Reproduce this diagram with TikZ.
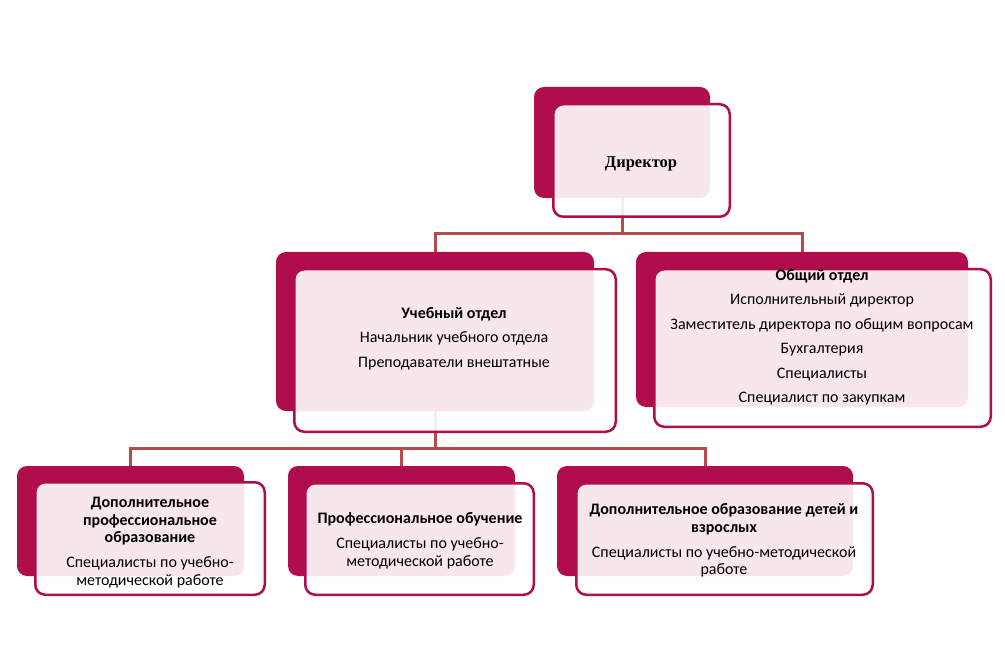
\documentclass[tikz,border=0pt]{standalone}
\usepackage{fontspec}
\setmainfont{Carlito}
\newfontfamily\dirfont{Liberation Serif}
\definecolor{crim}{RGB}{175,13,75}
\definecolor{connc}{RGB}{181,74,72}
\begin{document}
\begin{tikzpicture}[x=1pt,y=-1pt,
  backbox/.style={rectangle, rounded corners=10pt, draw=none, inner sep=0pt, outer sep=0pt},
  backfill/.style={crim, rounded corners=10pt},
  frontbox/.style={rectangle, rounded corners=10pt, draw=crim, line width=2.5pt, fill=white, fill opacity=0.9, inner sep=0pt, outer sep=0pt},
  conn/.style={draw=connc, line width=3pt},
  txt/.style={align=center, font=\fontsize{16}{17.8}\selectfont, inner sep=0pt},
  ltxt/.style={align=center, font=\fontsize{16}{24.5}\selectfont, inner sep=0pt}
]
\useasboundingbox[fill=white] (0,0) rectangle (1005,647);

% back boxes (placed first so connectors can attach to them)
\path (622,142.5) node[backbox, minimum width=176pt, minimum height=111pt] (dirB) {};
\path (435,331.5) node[backbox, minimum width=318pt, minimum height=159pt] (uchB) {};
\path (802,329.5) node[backbox, minimum width=332pt, minimum height=155pt] (obB) {};
\path (130.5,521) node[backbox, minimum width=227pt, minimum height=110pt] (b1B) {};
\path (401.5,521) node[backbox, minimum width=227pt, minimum height=110pt] (b2B) {};
\path (705,521) node[backbox, minimum width=296pt, minimum height=110pt] (b3B) {};

% connectors
\coordinate (j1) at (622,234);
\coordinate (j2) at (435,448);
\draw[conn] (dirB.south) -- (j1);
\draw[conn] (j1) -| (uchB.north);
\draw[conn] (j1) -| (obB.north);
\draw[conn] (uchB.south) -- (j2);
\draw[conn] (j2) -| (b1B.north);
\draw[conn] (j2) -| (b2B.north);
\draw[conn] (j2) -| (b3B.north);

% back box fills
\fill[backfill] (dirB.south west) rectangle (dirB.north east);
\fill[backfill] (uchB.south west) rectangle (uchB.north east);
\fill[backfill] (obB.south west) rectangle (obB.north east);
\fill[backfill] (b1B.south west) rectangle (b1B.north east);
\fill[backfill] (b2B.south west) rectangle (b2B.north east);
\fill[backfill] (b3B.south west) rectangle (b3B.north east);

% front boxes
\node[frontbox, minimum width=176.5pt, minimum height=112.5pt] (dirF) at (641.5,160.5) {};
\node[frontbox, minimum width=321.5pt, minimum height=162.5pt] (uchF) at (455,350.5) {};
\node[frontbox, minimum width=336.5pt, minimum height=157.5pt] (obF) at (822.5,348) {};
\node[frontbox, minimum width=229.5pt, minimum height=112.5pt] (b1F) at (150,538.5) {};
\node[frontbox, minimum width=228.5pt, minimum height=111.5pt] (b2F) at (419.5,539) {};
\node[frontbox, minimum width=296.5pt, minimum height=111.5pt] (b3F) at (724.5,539) {};

% texts
\node[inner sep=0pt] (dirT) at (641,163.5) {\dirfont\bfseries\fontsize{16.5}{19}\selectfont Директор};
\node[ltxt] (uchT) at (454,338.5) {\textbf{Учебный отдел}\\Начальник учебного отдела\\Преподаватели внештатные};
\node[ltxt] (obT) at (822,337.5) {\textbf{Общий отдел}\\Исполнительный директор\\Заместитель директора по общим вопросам\\Бухгалтерия\\Специалисты\\Специалист по закупкам};
\node[txt] (b1T) at (150,542.5) {\textbf{Дополнительное}\\\textbf{профессиональное}\\\textbf{образование}\\[7pt]Специалисты по учебно-\\методической работе};
\node[txt] (b2T) at (420,541) {\textbf{Профессиональное обучение}\\[7pt]Специалисты по учебно-\\методической работе};
\node[txt] (b3T) at (724,540.5) {\textbf{Дополнительное образование детей и}\\\textbf{взрослых}\\[7pt]Специалисты по учебно-методической\\работе};
\end{tikzpicture}
\end{document}
